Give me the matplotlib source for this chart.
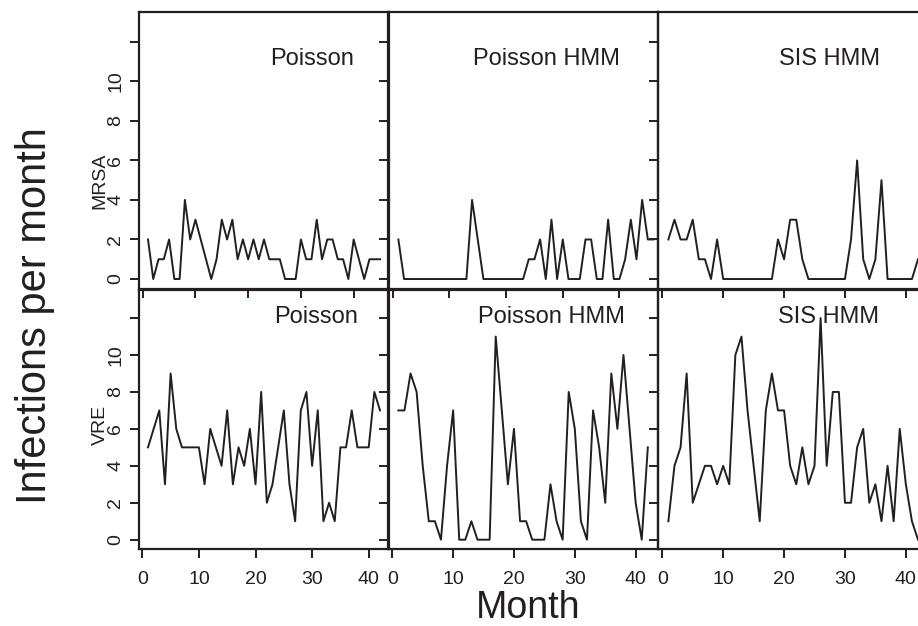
import matplotlib
matplotlib.use("Agg")
import matplotlib.pyplot as plt

plt.rcParams["font.family"] = ["Liberation Sans", "DejaVu Sans"]

models = ["Poisson", "Poisson HMM", "SIS HMM"]
organisms = ["MRSA", "VRE"]

# monthly infection counts
mrsa_poisson = [2, 0, 1, 1, 2, 0, 0, 4, 2, 3, 2, 1, 0, 1, 3, 2, 3, 1, 2, 1, 2, 1, 2,
                1, 1, 1, 0, 0, 0, 2, 1, 1, 3, 1, 2, 2, 1, 1, 0, 2, 1, 0, 1, 1, 1]
mrsa_poisson_hmm = [2, 0, 0, 0, 0, 0, 0, 0, 0, 0, 0, 0, 0, 4, 2, 0, 0, 0, 0, 0, 0, 0, 0,
                    1, 1, 2, 0, 3, 0, 2, 0, 0, 0, 2, 2, 0, 0, 3, 0, 0, 1, 3, 1, 4, 2, 2]
mrsa_sis_hmm = [2, 3, 2, 2, 3, 1, 1, 0, 2, 0, 0, 0, 0, 0, 0, 0, 0, 0, 2, 1, 3,
                3, 1, 0, 0, 0, 0, 0, 0, 0, 2, 6, 1, 0, 1, 5, 0, 0, 0, 0, 0, 1]
vre_poisson = [5, 6, 7, 3, 9, 6, 5, 5, 5, 5, 3, 6, 5, 4, 7, 3, 5, 4, 6, 3, 8,
               2, 3, 5, 7, 3, 1, 7, 8, 4, 7, 1, 2, 1, 5, 5, 7, 5, 5, 5, 8, 7]
vre_poisson_hmm = [7, 7, 9, 8, 4, 1, 1, 0, 4, 7, 0, 0, 1, 0, 0, 0, 11, 7, 3, 6, 1,
                   1, 0, 0, 0, 3, 1, 0, 8, 6, 1, 0, 7, 5, 2, 9, 6, 10, 6, 2, 0, 5]
vre_sis_hmm = [1, 4, 5, 9, 2, 3, 4, 4, 3, 4, 3, 10, 11, 7, 4, 1, 7, 9, 7, 7, 4,
               3, 5, 3, 4, 12, 4, 8, 8, 2, 2, 5, 6, 2, 3, 1, 4, 1, 6, 3, 1, 0]

series = [[mrsa_poisson, mrsa_poisson_hmm, mrsa_sis_hmm],
          [vre_poisson, vre_poisson_hmm, vre_sis_hmm]]
# number of months each panel's x axis was scaled for
xmax = [[45, 45, 42], [42, 42, 42]]

y_ticks = [0, 2, 4, 6, 8, 10, 12]
y_tick_labels = ["0", "2", "4", "6", "8", "10", ""]
x_ticks = [0, 10, 20, 30, 40]

W, H = 918, 626
fig = plt.figure(figsize=(W / 100, H / 100), dpi=100)

# panel edges in pixels
col_px = [(138.7, 389.3), (388.4, 657.8), (658.4, 928.0)]
row_px = [(11.7, 289.3), (290.0, 549.3)]
# label positions in axes fractions
label_pos = [[(0.690, 0.830), (0.587, 0.830), (0.635, 0.830)],
             [(0.707, 0.896), (0.605, 0.896), (0.631, 0.896)]]

ink = "#231f20"

for r in [1, 0]:
    for c in range(3):
        x0, x1 = col_px[c]
        t, b = row_px[r]
        ax = fig.add_axes([x0 / W, 1 - b / H, (x1 - x0) / W, (b - t) / H])
        ax.set_facecolor("none")
        y = series[r][c]
        ax.plot(range(1, len(y) + 1), y, color=ink, lw=1.4)
        m = xmax[r][c]
        pad = 0.04 * (m - 1)
        ax.set_xlim(1 - pad, m + pad)
        ax.set_ylim(-0.52, 13.52)
        for s in ax.spines.values():
            s.set_linewidth(1.6)
            s.set_color(ink)
        ax.tick_params(direction="out", length=6.5, width=1.4, color=ink,
                       labelsize=14, labelcolor=ink)
        ax.set_xticks(x_ticks)
        ax.set_yticks(y_ticks)
        if c == 0:
            ax.set_yticklabels(y_tick_labels, rotation=90, va="center")
            ax.tick_params(axis="y", pad=4)
        else:
            ax.set_yticklabels([])
        if r == 1:
            ax.tick_params(axis="x", pad=9)
        else:
            ax.set_xticklabels([])
        lx, ly = label_pos[r][c]
        ax.text(lx, ly, models[c], transform=ax.transAxes, ha="center",
                va="center", fontsize=17, color=ink)

fig.text(35 / W, 1 - 316 / H, "Infections per month", rotation=90,
         ha="center", va="center", fontsize=30, color=ink)
fig.text(100 / W, 1 - 181 / H, organisms[0], rotation=90,
         ha="center", va="center", fontsize=14, color=ink)
fig.text(100 / W, 1 - 425 / H, organisms[1], rotation=90,
         ha="center", va="center", fontsize=14, color=ink)
fig.text(528 / W, 1 - 608 / H, "Month", ha="center", va="center",
         fontsize=27, color=ink)

fig.savefig("out.png", dpi=100)
